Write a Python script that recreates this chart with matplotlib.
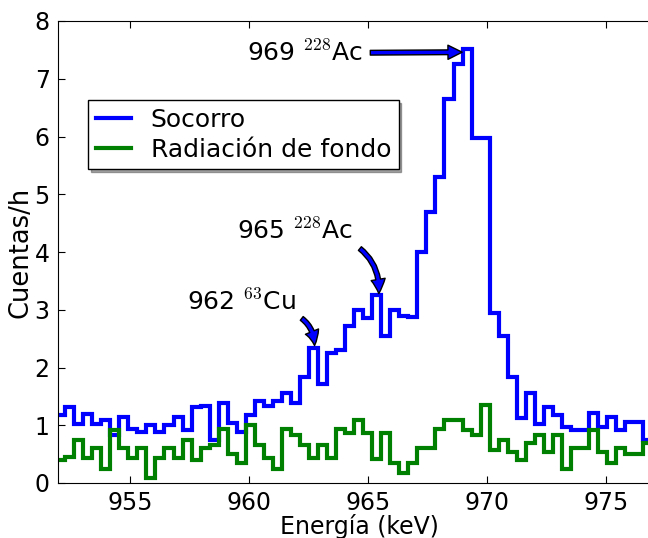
import matplotlib
matplotlib.use("Agg")
import matplotlib.pyplot as plt
import numpy as np

plt.rcParams["mathtext.fontset"] = "cm"
plt.rcParams["font.family"] = "DejaVu Sans"

# Energy binning of the spectrum (keV)
e_start = 951.89
bin_w = 0.3795

# Counts per hour in each bin
socorro = [1.17, 1.32, 1.03, 1.20, 1.03, 1.09, 0.83, 1.15, 0.94, 0.89,
           1.00, 0.89, 1.00, 1.15, 0.92, 1.32, 1.33, 0.74, 1.39, 1.04,
           0.89, 1.17, 1.42, 1.33, 1.42, 1.55, 1.39, 1.84, 2.33, 1.72,
           2.25, 2.30, 2.71, 3.00, 2.86, 3.25, 2.54, 3.00, 2.90, 2.87,
           4.00, 4.70, 5.30, 6.65, 7.26, 7.52, 5.98, 5.98, 2.94, 2.54,
           1.83, 1.12, 1.55, 1.03, 1.32, 1.17, 0.97, 0.92, 0.92, 1.21,
           0.97, 1.15, 0.92, 1.06, 1.06, 0.74]
fondo = [0.40, 0.45, 0.74, 0.43, 0.60, 0.25, 0.92, 0.60, 0.43, 0.60,
         0.08, 0.43, 0.60, 0.43, 0.74, 0.40, 0.60, 0.66, 0.93, 0.51,
         0.34, 1.00, 0.66, 0.43, 0.25, 0.93, 0.83, 0.66, 0.43, 0.66,
         0.43, 0.93, 0.86, 1.09, 0.86, 0.41, 0.86, 0.34, 0.17, 0.34,
         0.60, 0.60, 0.93, 1.09, 1.09, 0.92, 0.83, 1.35, 0.58, 0.74,
         0.54, 0.40, 0.69, 0.83, 0.54, 0.83, 0.25, 0.60, 0.60, 0.92,
         0.54, 0.34, 0.60, 0.51, 0.51, 0.69]

edges = e_start + bin_w * np.arange(len(socorro) + 1)

fs = 18

fig = plt.figure(figsize=(6.48, 5.38), dpi=100)
ax = fig.add_axes([58 / 648, 55 / 538, 602 / 648, 462 / 538])

ax.stairs(socorro, edges, baseline=None, color="b", lw=3, label="Socorro")
ax.stairs(fondo, edges, baseline=None, color="g", lw=3, label="Radiación de fondo")

ax.set_xlim(951.97, 951.97 + 602 / 23.8)
ax.set_ylim(0, 8)
ax.set_xticks([955, 960, 965, 970, 975])
ax.set_yticks(range(9))
ax.tick_params(direction="in", top=True, right=True, labelsize=17, length=5)
ax.tick_params(axis="x", pad=6)
ax.tick_params(axis="y", pad=6)
ax.set_xlabel("Energía (keV)", fontsize=17, labelpad=-1)
ax.set_ylabel("Cuentas/h", fontsize=18.5, labelpad=1)

arrow = dict(arrowstyle="simple,head_length=0.6,head_width=0.6,tail_width=0.2",
             fc="b", ec="k", lw=1)

ax.annotate("969 $^{228}$Ac", xy=(968.95, 7.46), xytext=(964.8, 7.45),
            ha="right", va="center", fontsize=fs,
            arrowprops=dict(arrow, relpos=(1, 0.5), shrinkA=3, shrinkB=0,
                            mutation_scale=17))
ax.annotate("965 $^{228}$Ac", xy=(965.45, 3.28), xytext=(964.35, 4.37),
            ha="right", va="center", fontsize=fs,
            arrowprops=dict(arrow, relpos=(1, 0), shrinkA=4, shrinkB=0,
                            mutation_scale=17, connectionstyle="arc3,rad=-0.3"))
ax.annotate("962 $^{63}$Cu", xy=(962.75, 2.38), xytext=(961.95, 3.14),
            ha="right", va="center", fontsize=fs,
            arrowprops=dict(arrow, relpos=(1, 0), shrinkA=3, shrinkB=0,
                            mutation_scale=17, connectionstyle="arc3,rad=-0.3"))

leg = ax.legend(loc="upper left", bbox_to_anchor=(0.05, 0.829), borderaxespad=0,
                fontsize=fs, shadow=True, fancybox=False, handlelength=1.4,
                handletextpad=0.8, labelspacing=0.25, borderpad=0.3)
leg.get_frame().set_edgecolor("k")
leg.get_frame().set_linewidth(1)

fig.savefig("out.png", dpi=100)
